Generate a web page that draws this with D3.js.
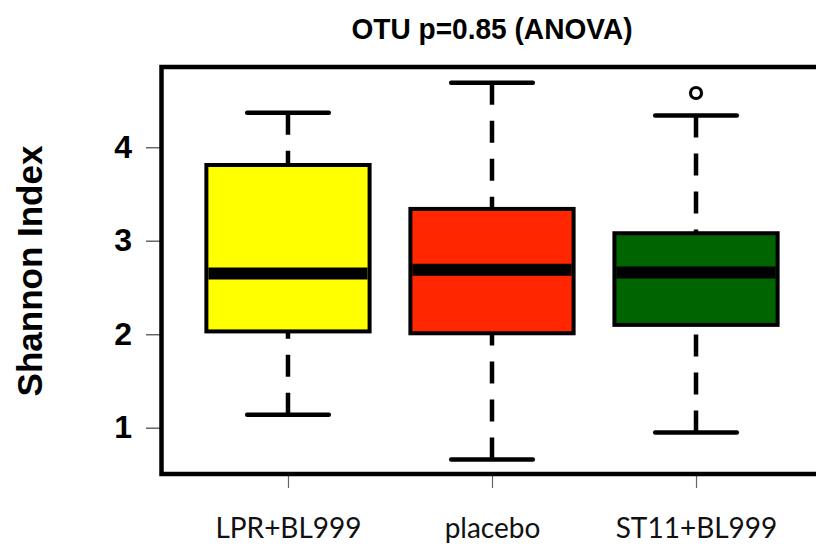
<!DOCTYPE html>
<html>
<head>
<meta charset="utf-8">
<script src="https://d3js.org/d3.v7.min.js"></script>
<style>
  body { margin: 0; background: #fff; }
  .ytick text { font-family: "Liberation Sans", Arial, sans-serif; font-weight: bold; font-size: 32px; fill: #000; }
  .ytick line { stroke: #666; stroke-width: 1.5px; }
  .xtick line { stroke: #666; stroke-width: 1.2px; }
  .xtick text { font-family: Lato, "Open Sans", sans-serif; font-size: 28px; fill: #111; }
</style>
</head>
<body>
<div id="chart"></div>
<script>
// box statistics
var groups    = ["LPR+BL999", "placebo", "ST11+BL999"];
var colors    = ["#ffff00", "#ff2600", "#006400"];
var whiskerLo = [1.14, 0.66, 0.95];
var q1        = [2.03, 2.01, 2.10];
var median    = [2.65, 2.69, 2.66];
var q3        = [3.81, 3.34, 3.08];
var whiskerHi = [4.37, 4.69, 4.34];
var outliers  = [[], [], [4.58]];
var yTicks    = [1, 2, 3, 4];

var width = 816, height = 551;

var svg = d3.select("#chart").append("svg")
  .attr("width", width)
  .attr("height", height);

// R style ranges: groups at 1..3, padded 4%
var x = d3.scaleLinear().domain([0.38, 3.62]).range([161.5, 822.5]);
var y = d3.scaleLinear().domain([0.505, 4.858]).range([474, 67]);

var boxHalf = 0.4, capHalf = 0.2;

// title
svg.append("text")
  .attr("x", 492).attr("y", 39)
  .attr("text-anchor", "middle")
  .attr("textLength", 281)
  .attr("lengthAdjust", "spacingAndGlyphs")
  .style("font-family", "'Liberation Sans', Arial, sans-serif")
  .style("font-weight", "bold")
  .style("font-size", "30px")
  .text("OTU p=0.85 (ANOVA)");

// y label
svg.append("text")
  .attr("transform", "translate(42,271) rotate(-90)")
  .attr("text-anchor", "middle")
  .style("font-family", "'Liberation Sans', Arial, sans-serif")
  .style("font-weight", "bold")
  .style("font-size", "35px")
  .text("Shannon Index");

// y axis ticks
var yAxis = svg.append("g")
  .attr("class", "ytick")
  .attr("transform", "translate(160,0)")
  .call(d3.axisLeft(y).tickValues(yTicks).tickSize(14).tickPadding(14).tickFormat(d3.format("d")));
yAxis.select(".domain").remove();

// x axis ticks
var xAxis = svg.append("g")
  .attr("class", "xtick")
  .attr("transform", "translate(0,474)")
  .call(d3.axisBottom(x).tickValues([1, 2, 3]).tickSize(14).tickPadding(30)
    .tickFormat(function(d) { return groups[d - 1]; }));
xAxis.select(".domain").remove();

var data = groups.map(function(g, i) {
  return { name: g, pos: i + 1, color: colors[i], lo: whiskerLo[i], q1: q1[i],
           med: median[i], q3: q3[i], hi: whiskerHi[i], out: outliers[i] };
});

var box = svg.selectAll(".box").data(data).enter().append("g").attr("class", "box");

// dashed whiskers, drawn from whisker end toward the box
box.append("line")
  .attr("x1", function(d) { return x(d.pos); }).attr("x2", function(d) { return x(d.pos); })
  .attr("y1", function(d) { return y(d.hi); }).attr("y2", function(d) { return y(d.q3); })
  .style("stroke", "#000").style("stroke-width", 4.5).style("stroke-dasharray", "22,16");
box.append("line")
  .attr("x1", function(d) { return x(d.pos); }).attr("x2", function(d) { return x(d.pos); })
  .attr("y1", function(d) { return y(d.lo); }).attr("y2", function(d) { return y(d.q1); })
  .style("stroke", "#000").style("stroke-width", 4.5).style("stroke-dasharray", "22,16");

// staples
["hi", "lo"].forEach(function(k) {
  box.append("line")
    .attr("x1", function(d) { return x(d.pos - capHalf); })
    .attr("x2", function(d) { return x(d.pos + capHalf); })
    .attr("y1", function(d) { return y(d[k]); })
    .attr("y2", function(d) { return y(d[k]); })
    .style("stroke", "#000").style("stroke-width", 4.5).style("stroke-linecap", "round");
});

// boxes
box.append("rect")
  .attr("x", function(d) { return x(d.pos - boxHalf); })
  .attr("width", function(d) { return x(d.pos + boxHalf) - x(d.pos - boxHalf); })
  .attr("y", function(d) { return y(d.q3); })
  .attr("height", function(d) { return y(d.q1) - y(d.q3); })
  .style("fill", function(d) { return d.color; })
  .style("stroke", "#000").style("stroke-width", 4);

// medians
box.append("line")
  .attr("x1", function(d) { return x(d.pos - boxHalf) + 2; })
  .attr("x2", function(d) { return x(d.pos + boxHalf) - 2; })
  .attr("y1", function(d) { return y(d.med); })
  .attr("y2", function(d) { return y(d.med); })
  .style("stroke", "#000").style("stroke-width", 12);

// outliers
box.selectAll(".out").data(function(d) { return d.out.map(function(v) { return { pos: d.pos, v: v }; }); })
  .enter().append("circle")
  .attr("cx", function(d) { return x(d.pos); })
  .attr("cy", function(d) { return y(d.v); })
  .attr("r", 5.5)
  .style("fill", "none").style("stroke", "#000").style("stroke-width", 3.2);

// plot frame
svg.append("rect")
  .attr("x", x.range()[0]).attr("y", y.range()[1])
  .attr("width", x.range()[1] - x.range()[0])
  .attr("height", y.range()[0] - y.range()[1])
  .style("fill", "none").style("stroke", "#000").style("stroke-width", 4.5);
</script>
</body>
</html>
